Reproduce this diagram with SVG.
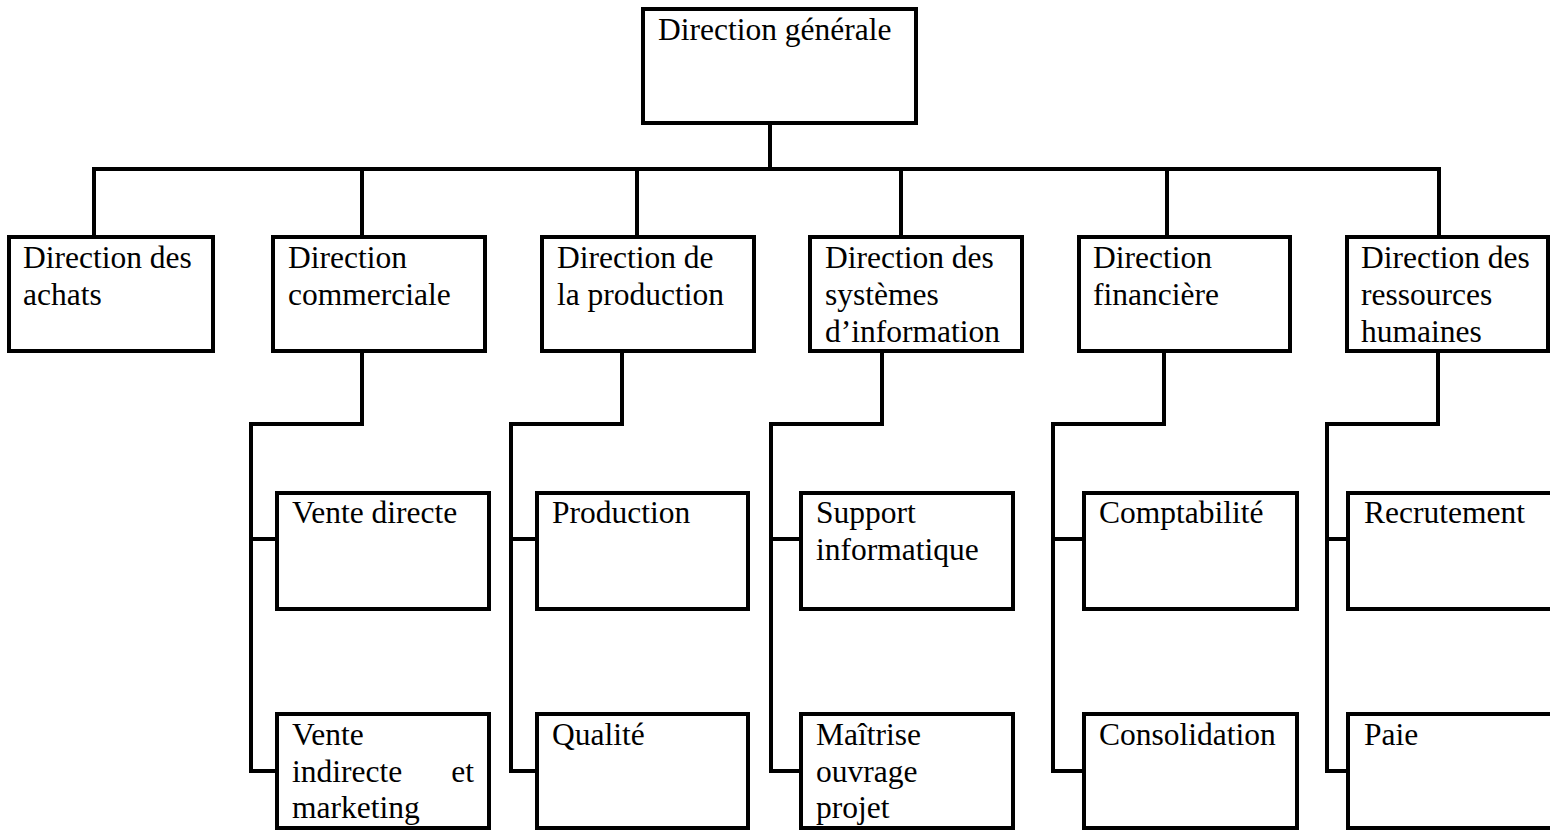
<svg xmlns="http://www.w3.org/2000/svg" width="1550" height="830" viewBox="0 0 1550 830">
  <style>
    .box { fill: #ffffff; stroke: #000000; stroke-width: 4; }
    .lbl { font-family: "Liberation Serif", "Times New Roman", serif; font-size: 31.5px; fill: #000000; }
    .conn path { fill: none; stroke: #000000; stroke-width: 4; stroke-linejoin: miter; stroke-linecap: butt; }
  </style>
  <rect x="0" y="0" width="1550" height="830" fill="#ffffff"/>

  <g id="connectors" class="conn">
    <path d="M770 123 V169"/>
    <path d="M94 237 V169 H1439 V237"/>
    <path d="M362 169 V237"/>
    <path d="M637 169 V237"/>
    <path d="M901 169 V237"/>
    <path d="M1167 169 V237"/>

    <path d="M362 351 V424 H251 V771 H277"/>
    <path d="M251 539 H277"/>

    <path d="M622 351 V424 H511 V771 H537"/>
    <path d="M511 539 H537"/>

    <path d="M882 351 V424 H771 V771 H801"/>
    <path d="M771 539 H801"/>

    <path d="M1164 351 V424 H1053 V771 H1084"/>
    <path d="M1053 539 H1084"/>

    <path d="M1438 351 V424 H1327 V771 H1348"/>
    <path d="M1327 539 H1348"/>
  </g>

  <g id="direction-generale">
    <rect class="box" x="643" y="9" width="273" height="114"/>
    <text class="lbl" x="658" y="40">Direction générale</text>
  </g>

  <g id="direction-achats">
    <rect class="box" x="9" y="237" width="204" height="114"/>
    <text class="lbl" x="23" y="268">Direction des</text>
    <text class="lbl" x="23" y="305">achats</text>
  </g>

  <g id="direction-commerciale">
    <rect class="box" x="273" y="237" width="212" height="114"/>
    <text class="lbl" x="288" y="268">Direction</text>
    <text class="lbl" x="288" y="305">commerciale</text>
  </g>

  <g id="direction-production">
    <rect class="box" x="542" y="237" width="212" height="114"/>
    <text class="lbl" x="557" y="268">Direction de</text>
    <text class="lbl" x="557" y="305">la production</text>
  </g>

  <g id="direction-si">
    <rect class="box" x="810" y="237" width="212" height="114"/>
    <text class="lbl" x="825" y="268">Direction des</text>
    <text class="lbl" x="825" y="305">systèmes</text>
    <text class="lbl" x="825" y="342">d’information</text>
  </g>

  <g id="direction-financiere">
    <rect class="box" x="1079" y="237" width="211" height="114"/>
    <text class="lbl" x="1093" y="268">Direction</text>
    <text class="lbl" x="1093" y="305">financière</text>
  </g>

  <g id="direction-rh">
    <rect class="box" x="1347" y="237" width="201" height="114"/>
    <text class="lbl" x="1361" y="268">Direction des</text>
    <text class="lbl" x="1361" y="305">ressources</text>
    <text class="lbl" x="1361" y="342">humaines</text>
  </g>

  <g id="vente-directe">
    <rect class="box" x="277" y="493" width="212" height="116"/>
    <text class="lbl" x="292" y="523">Vente directe</text>
  </g>

  <g id="vente-indirecte">
    <rect class="box" x="277" y="714" width="212" height="114"/>
    <text class="lbl" x="292" y="745">Vente</text>
    <text class="lbl" x="292" y="782">indirecte</text>
    <text class="lbl" x="474" y="782" text-anchor="end">et</text>
    <text class="lbl" x="292" y="818">marketing</text>
  </g>

  <g id="production">
    <rect class="box" x="537" y="493" width="211" height="116"/>
    <text class="lbl" x="552" y="523">Production</text>
  </g>

  <g id="qualite">
    <rect class="box" x="537" y="714" width="211" height="114"/>
    <text class="lbl" x="552" y="745">Qualité</text>
  </g>

  <g id="support-informatique">
    <rect class="box" x="801" y="493" width="212" height="116"/>
    <text class="lbl" x="816" y="523">Support</text>
    <text class="lbl" x="816" y="560">informatique</text>
  </g>

  <g id="maitrise-ouvrage">
    <rect class="box" x="801" y="714" width="212" height="114"/>
    <text class="lbl" x="816" y="745">Maîtrise</text>
    <text class="lbl" x="816" y="782">ouvrage</text>
    <text class="lbl" x="816" y="818">projet</text>
  </g>

  <g id="comptabilite">
    <rect class="box" x="1084" y="493" width="213" height="116"/>
    <text class="lbl" x="1099" y="523">Comptabilité</text>
  </g>

  <g id="consolidation">
    <rect class="box" x="1084" y="714" width="213" height="114"/>
    <text class="lbl" x="1099" y="745">Consolidation</text>
  </g>

  <g id="recrutement">
    <rect class="box" x="1348" y="493" width="220" height="116"/>
    <text class="lbl" x="1364" y="523">Recrutement</text>
  </g>

  <g id="paie">
    <rect class="box" x="1348" y="714" width="220" height="114"/>
    <text class="lbl" x="1364" y="745">Paie</text>
  </g>
</svg>
